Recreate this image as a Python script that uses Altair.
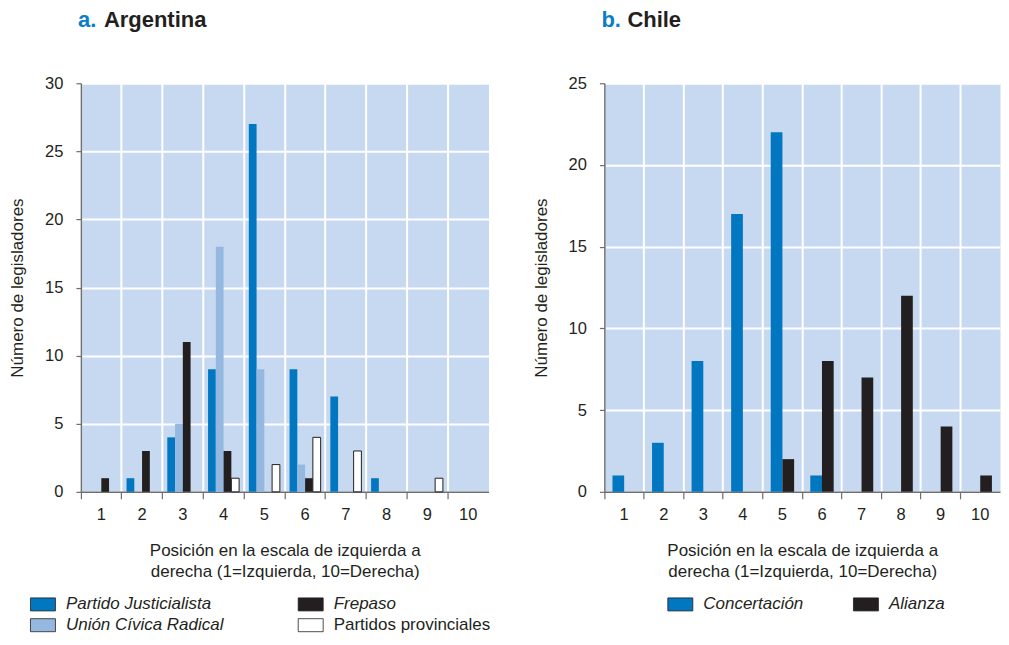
import altair as alt
import pandas as pd

positions = list(range(1, 11))

# Argentina
arg_series = ["Partido Justicialista", "Unión Cívica Radical", "Frepaso", "Partidos provinciales"]
pj = [0, 1, 4, 9, 27, 9, 7, 1, 0, 0]
ucr = [0, 0, 5, 18, 9, 2, 0, 0, 0, 0]
frepaso = [1, 3, 11, 3, 0, 1, 0, 0, 0, 0]
provinciales = [0, 0, 0, 1, 2, 4, 3, 0, 1, 0]
arg_colors = ["#0077c0", "#94b8e0", "#231f20", "#ffffff"]

# Chile
chi_series = ["Concertación", "Alianza"]
concertacion = [1, 3, 8, 17, 22, 1, 0, 0, 0, 0]
alianza = [0, 0, 0, 0, 2, 8, 7, 12, 4, 1]
chi_colors = ["#0077c0", "#231f20"]

letters = ["a.", "b."]
names = ["Argentina", "Chile"]
x_title = ["Posición en la escala de izquierda a", "derecha  (1=Izquierda, 10=Derecha)"]
y_title = "Número de legisladores"

FONT = "Liberation Sans"
TXT = "#231f20"
AX = "#6d6e71"
BG = "#c6d9f0"
LETTER_BLUE = "#0a7dc8"
H = 409


def make_df(series_names, series_values):
    rows = []
    for name, vals in zip(series_names, series_values):
        for p, v in zip(positions, vals):
            rows.append({"pos": p, "partido": name, "n": v})
    return pd.DataFrame(rows)


def title_text(txt, x, color):
    return alt.Chart(pd.DataFrame({"t": [txt]})).mark_text(
        align="left", baseline="alphabetic", font=FONT, fontSize=22,
        fontWeight="bold", color=color
    ).encode(x=alt.value(x), y=alt.value(-56), text="t:N")


def panel(df, series, colors, ymax, width, pad_outer,
          letter, name, legend_x, col_pad):
    bars = alt.Chart(df).transform_filter(alt.datum.n > 0).mark_bar(strokeWidth=1).encode(
        x=alt.X("pos:O",
                scale=alt.Scale(domain=positions, paddingInner=0, paddingOuter=0),
                axis=alt.Axis(bandPosition=0, labelAngle=0,
                              grid=True, gridColor="white", gridWidth=2,
                              tickSize=7, tickColor=AX, tickWidth=1.2,
                              domainColor=AX, domainWidth=1.5,
                              labelPadding=8, labelFontSize=16.5, labelColor=TXT,
                              title=x_title, titleFontSize=17, titleFontWeight="normal",
                              titleColor=TXT, titlePadding=19, titleLineHeight=21)),
        xOffset=alt.XOffset("partido:N",
                            scale=alt.Scale(domain=series, paddingInner=0, paddingOuter=pad_outer)),
        y=alt.Y("n:Q",
                scale=alt.Scale(domain=[0, ymax], nice=False),
                axis=alt.Axis(values=list(range(0, ymax + 1, 5)),
                              grid=True, gridColor="white", gridWidth=2,
                              tickSize=5, tickColor=AX, tickWidth=1.2,
                              domainColor=AX, domainWidth=1.5,
                              labelPadding=13, labelFontSize=16.5, labelColor=TXT,
                              title=y_title, titleFontSize=17, titleFontWeight="normal",
                              titleColor=TXT, titlePadding=18)),
        color=alt.Color("partido:N",
                        scale=alt.Scale(domain=series, range=colors),
                        legend=alt.Legend(
                            title=None, orient="none", legendX=legend_x, legendY=511,
                            columns=2, columnPadding=col_pad, rowPadding=2,
                            symbolType="M-1.25,-0.65L1.25,-0.65L1.25,0.65L-1.25,0.65Z",
                            symbolSize=400, symbolStrokeColor=TXT, symbolStrokeWidth=0.8,
                            symbolOpacity=1,
                            labelFont=FONT, labelFontSize=17, labelColor=TXT,
                            labelOffset=12.5, labelLimit=300, padding=0,
                            labelFontStyle={"expr": "datum.label === 'Partidos provinciales' ? 'normal' : 'italic'"},
                        )),
        stroke=alt.condition(alt.datum.partido == "Partidos provinciales",
                             alt.value(TXT), alt.value("transparent")),
    )
    return alt.layer(
        bars,
        title_text(letter, -3, LETTER_BLUE),
        title_text(name, 23, TXT),
    ).properties(width=width, height=H)


arg_df = make_df(arg_series, [pj, ucr, frepaso, provinciales])
chi_df = make_df(chi_series, [concertacion, alianza])

arg = panel(arg_df, arg_series, arg_colors, 30, 408, 0.625,
            letters[0], names[0], -48.5, 72.0)
chi = panel(chi_df, chi_series, chi_colors, 25, 396, 0.69,
            letters[1], names[1], 65.5, 47.8)

chart = alt.hconcat(arg, chi, spacing=40).resolve_scale(
    x="independent", y="independent", color="independent", xOffset="independent"
).resolve_legend(color="independent").properties(padding=0).configure_view(
    fill=BG, stroke="transparent"
).configure_axis(labelFont=FONT, titleFont=FONT).configure_legend(labelFont=FONT)

chart.save("out.html", embed_options={"renderer": "svg", "actions": False})
